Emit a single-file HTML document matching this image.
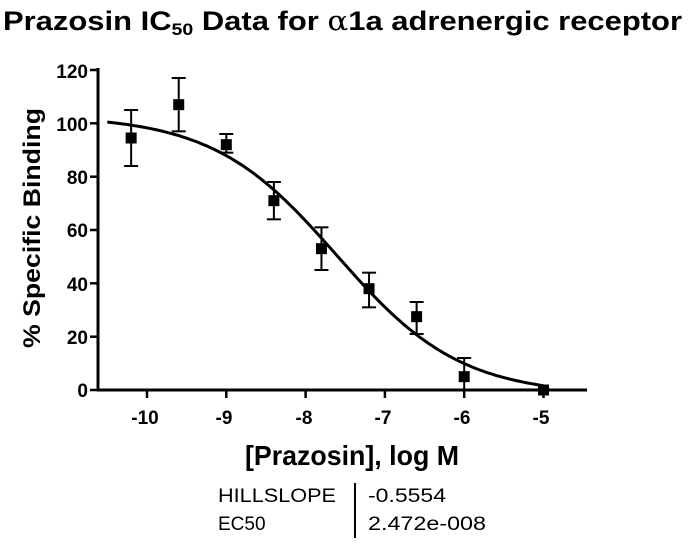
<!DOCTYPE html>
<html><head><meta charset="utf-8"><style>
body{margin:0;background:#fff;width:688px;height:538px;overflow:hidden}
svg text{font-family:"Liberation Sans",Arial,sans-serif}
</style></head><body>
<svg width="688" height="538" xmlns="http://www.w3.org/2000/svg">
<text x="3" y="30" font-size="27" font-weight="bold" textLength="679" lengthAdjust="spacingAndGlyphs">Prazosin IC<tspan font-size="17" dy="5">50</tspan><tspan dy="-5"> Data for </tspan><tspan font-family="DejaVu Serif" font-weight="normal">α</tspan>1a adrenergic receptor</text>
<g stroke="#000" stroke-width="3" fill="none">
<line x1="98" y1="68" x2="98" y2="391.5"/>
<line x1="96.5" y1="390" x2="587" y2="390"/>
</g>
<g stroke="#000" stroke-width="2.5">
<line x1="90" y1="70" x2="98" y2="70"/><line x1="90" y1="123.3" x2="98" y2="123.3"/><line x1="90" y1="176.7" x2="98" y2="176.7"/><line x1="90" y1="230" x2="98" y2="230"/><line x1="90" y1="283.3" x2="98" y2="283.3"/><line x1="90" y1="336.7" x2="98" y2="336.7"/><line x1="90" y1="390" x2="98" y2="390"/>
<line x1="147" y1="390" x2="147" y2="398"/><line x1="226.3" y1="390" x2="226.3" y2="398"/><line x1="305.6" y1="390" x2="305.6" y2="398"/><line x1="384.9" y1="390" x2="384.9" y2="398"/><line x1="464.2" y1="390" x2="464.2" y2="398"/><line x1="543.5" y1="390" x2="543.5" y2="398"/>
</g>
<g font-size="19" font-weight="bold" text-anchor="end">
<text x="88" y="78">120</text><text x="88" y="131">100</text><text x="88" y="184">80</text><text x="88" y="237">60</text><text x="88" y="291">40</text><text x="88" y="344">20</text><text x="88" y="397">0</text>
</g>
<g font-size="19" font-weight="bold" text-anchor="middle">
<text x="145" y="424">-10</text><text x="224" y="424">-9</text><text x="304" y="424">-8</text><text x="383" y="424">-7</text><text x="462" y="424">-6</text><text x="541" y="424">-5</text>
</g>
<text transform="translate(40,228) rotate(-90)" font-size="24" font-weight="bold" text-anchor="middle" textLength="240" lengthAdjust="spacingAndGlyphs">% Specific Binding</text>
<text x="245" y="465" font-size="28" font-weight="bold" textLength="214" lengthAdjust="spacingAndGlyphs">[Prazosin], log M</text>
<path id="curve" stroke="#000" stroke-width="3" fill="none" d=""/>
<g id="pts" stroke="#000" stroke-width="2"></g>
<g font-size="19"><text x="218" y="502" textLength="118" lengthAdjust="spacingAndGlyphs">HILLSLOPE</text><text x="218" y="530">EC50</text><text x="368" y="502" textLength="78" lengthAdjust="spacingAndGlyphs">-0.5554</text><text x="368" y="530" textLength="118" lengthAdjust="spacingAndGlyphs">2.472e-008</text></g>
<line x1="355" y1="483" x2="355" y2="538" stroke="#000" stroke-width="2"/>
</svg>
<script>
function X(v){return 147+(v+10)*79.3}function Y(v){return 390-v*2.6667}
var d="";for(var i=0;i<=110;i++){var x=-10.5+i*0.05;var y=-2+105/(1+Math.pow(10,(-7.607-x)*-0.5554));d+=(i?"L":"M")+X(x).toFixed(1)+","+Y(y).toFixed(1);}
document.getElementById("curve").setAttribute("d",d);
var P=[[-10.2,94.5,84,105],[-9.6,107,97,117],[-9,92,89,96],[-8.4,71,64,78],[-7.8,53,45,61],[-7.2,38,31,44],[-6.6,27.5,21,33],[-6,5,0,12],[-5,0,0,0]];
var g=document.getElementById("pts"),s="";
P.forEach(function(p){var x=X(p[0]);if(p[3]>p[2]){s+='<line x1="'+x+'" y1="'+Y(p[2])+'" x2="'+x+'" y2="'+Y(p[3])+'"/>';s+='<line x1="'+(x-7)+'" y1="'+Y(p[2])+'" x2="'+(x+7)+'" y2="'+Y(p[2])+'"/>';s+='<line x1="'+(x-7)+'" y1="'+Y(p[3])+'" x2="'+(x+7)+'" y2="'+Y(p[3])+'"/>';}
s+='<rect x="'+(x-5.5)+'" y="'+(Y(p[1])-5.5)+'" width="11" height="11" fill="#000" stroke="none"/>';});
g.innerHTML=s;
</script>
</body></html>
